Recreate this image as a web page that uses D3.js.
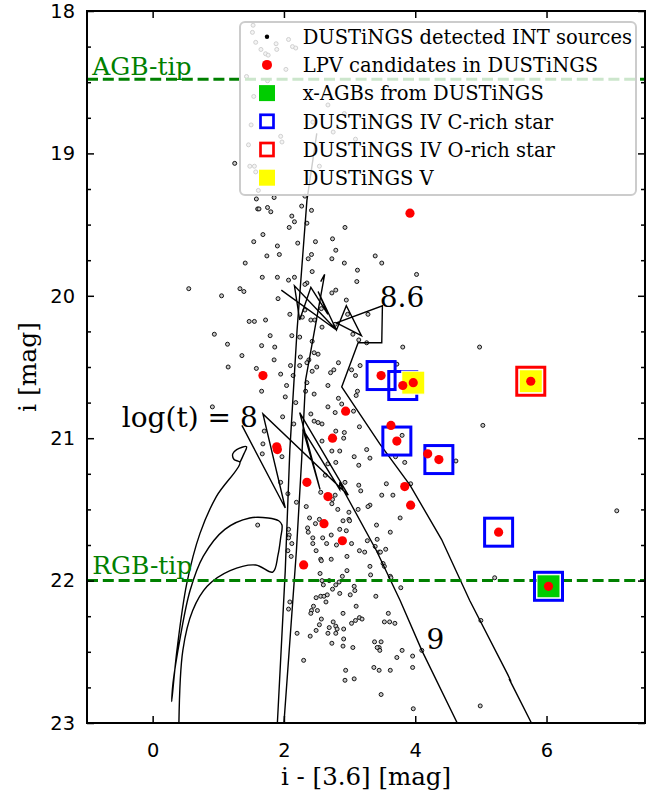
<!DOCTYPE html>
<html>
<head>
<meta charset="utf-8">
<script src="https://cdn.jsdelivr.net/npm/d3@7"></script>
<style>
  body { margin: 0; background: #fff; }
  svg { display: block; }
</style>
</head>
<body>
<svg id="chart" width="659" height="792"></svg>
<script>
// ---- DUSTiNGS INT sources: [i - [3.6], i] ----
const intSources = [
  [1.53,18.10],[1.52,18.15],[1.57,18.22],[1.88,18.23],[2.07,18.20],[1.89,18.27],[2.13,18.25],[2.18,18.26],
  [1.65,18.27],[1.72,18.30],[1.76,18.31],[2.03,18.41],[1.43,18.46],[1.75,18.49],[1.54,18.60],[2.67,18.66],
  [2.92,18.72],[1.50,18.80],[2.44,18.78],[2.75,18.85],[1.95,18.88],[1.97,18.92],[1.46,18.94],[3.09,18.90],
  [1.48,19.09],[1.55,19.09],[2.54,19.09],[1.57,19.13],[1.61,19.26],[2.32,19.30],[1.25,19.07],[1.58,19.32],
  [1.85,19.31],[1.60,19.39],[1.62,19.39],[1.75,19.38],[1.80,19.41],[2.27,19.37],[2.42,19.40],[2.12,19.44],
  [2.16,19.48],[2.08,19.52],[2.35,19.49],[2.93,19.52],
  [1.68,19.57],[1.54,19.62],[1.90,19.65],[2.21,19.63],[2.48,19.62],[2.74,19.60],[2.79,19.68],[1.74,19.72],
  [1.93,19.71],[2.42,19.71],[2.37,19.74],[2.73,19.74],[1.41,19.77],[2.92,19.77],[3.39,19.72],[3.49,19.77],
  [2.43,19.83],[3.12,19.82],[1.67,19.87],[1.90,19.87],[2.16,19.87],[2.07,19.89],[2.35,19.91],[2.32,19.92],
  [3.11,19.90],[4.02,19.85],[0.55,19.95],[1.05,20.00],[1.33,19.95],[1.39,19.97],[1.91,20.02],[2.73,19.98],
  [2.79,19.96],[2.95,20.03],[2.32,20.10],[2.57,20.09],[2.09,20.13],[1.47,20.18],[1.55,20.18],[1.72,20.17],
  [2.28,20.15],[2.41,20.17],[2.47,20.17],[2.78,20.20],[2.97,20.13],[3.28,20.13],[2.58,20.22],[0.94,20.27],
  [1.79,20.28],[2.12,20.28],[2.24,20.29],[3.05,20.27],[3.14,20.31],[2.43,20.32],[3.26,20.33],[1.14,20.34],
  [1.66,20.35],[1.86,20.36],[3.81,20.36],[1.36,20.42],[2.46,20.40],[2.52,20.41],[2.25,20.43],[2.38,20.45],
  [1.85,20.45],[2.10,20.49],[2.24,20.49],[2.35,20.47],[2.50,20.50],[2.83,20.47],[3.16,20.49],[1.15,20.50],
  [1.58,20.51],[1.95,20.55],[2.43,20.53],[2.76,20.52],[2.71,20.54],[2.14,20.56],[3.09,20.56],[2.04,20.63],
  [2.35,20.61],[2.67,20.63],[1.66,20.67],[2.33,20.67],[2.46,20.69],[2.02,20.71],[3.12,20.67],[3.10,20.70],
  [2.18,20.75],[2.83,20.72],[2.88,20.76],[2.67,20.78],[2.78,20.82],[3.06,20.81],[0.91,20.78],[1.98,20.85],
  [2.41,20.83],[2.46,20.88],[2.52,20.89],[2.58,20.90],[2.15,20.90],[1.70,20.95],[2.79,20.95],[2.92,20.96],
  [2.91,21.00],[3.15,20.92],[2.58,21.02],[1.68,21.04],[3.26,21.08],[4.98,20.36],[3.03,20.52],[3.72,20.48],
  [5.03,20.91],[3.80,20.98],
  [1.67,21.11],[1.97,21.13],[2.73,21.09],[2.85,21.09],[3.07,21.13],[3.31,21.14],[3.70,21.13],[2.67,21.18],
  [2.79,21.17],[3.14,21.19],[3.84,21.17],[2.63,21.26],[2.93,21.31],[1.95,21.31],[3.14,21.33],[3.56,21.32],
  [3.93,21.32],[3.17,21.37],[2.06,21.39],[2.56,21.38],[2.78,21.40],[2.74,21.43],[2.73,21.46],[3.49,21.40],
  [3.66,21.40],[2.19,21.45],[3.31,21.47],[3.28,21.48],[2.34,21.48],[2.82,21.50],[2.99,21.52],[3.13,21.50],
  [3.77,21.56],[2.39,21.56],[2.54,21.57],[2.48,21.60],[2.90,21.58],[2.99,21.57],[3.00,21.58],[3.41,21.61],
  [2.36,21.63],[2.85,21.64],[2.95,21.65],[3.62,21.66],[2.37,21.66],[2.07,21.64],[1.60,21.61],[2.08,21.68],
  [2.07,21.70],[2.44,21.70],[2.59,21.70],[2.72,21.68],[3.27,21.72],[3.42,21.71],[2.12,21.74],[2.44,21.74],
  [2.65,21.74],[2.80,21.75],[3.03,21.74],[3.39,21.76],[3.45,21.80],[3.47,21.80],[3.55,21.78],[2.06,21.79],
  [2.49,21.79],[3.15,21.79],[3.23,21.80],[2.11,21.83],[2.96,21.83],[2.56,21.85],[2.57,21.86],[2.72,21.85],
  [3.51,21.88],[3.31,21.90],[3.53,21.90],[2.96,21.93],[2.55,21.95],[3.32,21.96],[3.62,21.97],[3.63,21.98],
  [2.89,21.97],[2.58,22.00],[2.69,22.00],[2.84,22.01],[2.60,22.03],[2.79,22.03],[3.07,22.04],[3.78,22.05],
  [2.74,22.06],[2.85,22.09],[3.01,22.10],[3.08,22.07],[3.40,22.11],[2.49,22.12],[2.56,22.11],[2.61,22.11],
  [2.66,22.10],[2.64,22.15],[2.45,22.18],[2.51,22.21],[2.42,22.21],[2.41,22.23],[2.09,22.15],[2.07,22.20],
  [3.10,22.18],[2.90,22.23],[3.59,22.23],[2.57,22.27],[2.54,22.31],[2.75,22.29],[2.79,22.32],[2.81,22.34],
  [2.69,22.33],[2.91,22.34],[3.03,22.30],[3.09,22.28],[3.15,22.26],[3.19,22.27],[3.53,22.29],[3.61,22.29],
  [3.69,22.30],[2.49,22.35],[2.40,22.39],[2.67,22.37],[2.79,22.37],[2.20,22.37],[2.91,22.41],[2.73,22.44],
  [2.90,22.46],[3.05,22.47],[3.38,22.43],[3.48,22.43],[3.45,22.47],[3.46,22.49],[3.42,22.47],[3.80,22.49],
  [3.72,22.54],[3.96,22.53],[2.30,22.56],[3.37,22.61],[3.45,22.63],[3.62,22.63],[3.96,22.61],[2.94,22.63],
  [2.93,22.70],[3.07,22.69],[3.48,22.80],[3.97,22.90],[4.10,22.49],[4.62,21.16],[7.07,21.51],[5.21,21.98],
  [5.00,22.28],[4.99,22.88]
];

// ---- LPV candidates ----
const lpvColor = [3.92,1.68,3.48,3.81,3.97,5.76,2.94,3.63,3.72,2.74,1.89,1.90,4.19,4.36,2.35,3.84,2.67,3.93,2.61,5.27,2.89,2.30,6.03];
const lpvMag   = [19.42,20.56,20.56,20.63,20.61,20.60,20.81,20.91,21.02,21.00,21.06,21.08,21.11,21.15,21.31,21.34,21.41,21.47,21.60,21.66,21.72,21.89,22.04];

// ---- classified stars ----
const xagbColor  = [6.03];
const xagbMag    = [22.04];
const cRichColor = [3.48,3.81,3.72,4.36,5.27,6.03];
const cRichMag   = [20.56,20.63,21.02,21.15,21.66,22.04];
const oRichColor = [5.76];
const oRichMag   = [20.60];
const dustVColor = [3.97,5.76];
const dustVMag   = [20.61,20.60];

// ---- isochrone tracks ----
// blue loop + red giant horn of the youngest isochrone (drawn smoothed)
const isoHorn = [
  [0.40,23.00],[0.46,22.49],[0.61,22.21],[0.83,22.04],[1.18,21.93],[1.57,21.89],[1.83,21.94],[1.91,21.82],
  [1.95,21.70],[1.97,21.61],[1.92,21.58],[1.76,21.56],[1.48,21.56],[1.10,21.64],[0.77,21.83],[0.57,22.07],
  [0.42,22.40],[0.31,22.72],[0.29,22.85],[0.37,22.49],[0.52,22.02],[0.72,21.67],[0.97,21.41],[1.33,21.17],
  [1.24,21.15],[1.22,21.11],[1.28,21.08],[1.43,21.06],[1.39,21.11],[1.33,21.17]
];
const isoZig8 = [
  [1.36,20.91],[2.02,21.49],[1.68,20.83],[2.98,21.40],[2.24,20.82],[2.55,21.36],[2.29,20.94],[2.85,21.36],
  [2.85,21.31],[2.90,21.36],[3.41,21.79],[3.77,22.14],[4.10,22.49],[4.64,23.00]
];
const isoRgbA = [[2.50,18.86],[2.35,19.33],[2.20,20.24],[2.09,21.08],[2.02,21.93],[1.90,23.00]];
const isoRgbB = [[2.56,19.90],[2.62,19.85],[2.33,20.59],[2.27,21.15],[2.19,21.79],[2.00,23.00]];
const isoZig86 = [
  [1.96,19.96],[2.80,20.24],[2.16,19.93],[2.24,20.17],[2.41,19.94],[2.67,20.13],[2.52,19.97],[2.80,20.24],
  [2.95,20.07],[3.18,20.28],[2.80,20.19],[3.50,20.07],[3.49,20.33],[3.13,20.33],[2.88,20.64],[3.46,21.04],
  [3.92,21.33],[4.40,21.71],[4.83,22.14],[5.41,22.66],[5.46,22.71],[5.43,22.69],[5.77,23.00]
];
const straightTracks = [isoZig8, isoRgbA, isoRgbB, isoZig86];

// ---- reference magnitudes ----
const agbTip = 18.48;
const rgbTip = 22.0;

// ---- axis ticks ----
const xTicks = [0, 2, 4, 6];
const yTicks = [18, 19, 20, 21, 22, 23];
const yMinor = d3.range(18, 23.001, 0.25).filter(v => Math.abs(v - Math.round(v)) > 1e-6);

const legendLabels = [
  "DUSTiNGS detected INT sources",
  "LPV candidates in DUSTiNGS",
  "x-AGBs from DUSTiNGS",
  "DUSTiNGS IV C-rich star",
  "DUSTiNGS IV O-rich star",
  "DUSTiNGS V"
];

// ---------------------------------------------------------------
const W = 659, H = 792;
const margin = { top: 11, right: 14, bottom: 69, left: 87 };
const x = d3.scaleLinear().domain([-1, 7.5]).range([margin.left, W - margin.right]);
const y = d3.scaleLinear().domain([18, 23]).range([margin.top, H - margin.bottom]);

const serif = "'DejaVu Serif', serif";
const sans = "'DejaVu Sans', sans-serif";
const GREEN = "#008000";

const svg = d3.select("#chart");

svg.append("defs").append("clipPath").attr("id", "plotClip")
  .append("rect")
  .attr("x", x(-1)).attr("y", y(18))
  .attr("width", x(7.5) - x(-1)).attr("height", y(23) - y(18));

const plot = svg.append("g").attr("clip-path", "url(#plotClip)");

// detected sources
plot.append("g").selectAll("circle").data(intSources).join("circle")
  .attr("cx", d => x(d[0])).attr("cy", d => y(d[1]))
  .attr("r", 2)
  .attr("fill", "#c8c8c8")
  .attr("stroke", "#000")
  .attr("stroke-width", 0.9);

// isochrones
const line = d3.line().x(d => x(d[0])).y(d => y(d[1]));
const smooth = d3.line().x(d => x(d[0])).y(d => y(d[1])).curve(d3.curveCatmullRom.alpha(0.5));
const isoG = plot.append("g")
  .attr("fill", "none").attr("stroke", "#000").attr("stroke-width", 1.4);
isoG.append("path").attr("d", smooth(isoHorn));
isoG.selectAll("path.track").data(straightTracks).join("path")
  .attr("class", "track")
  .attr("d", line);

// AGB / RGB tip lines
plot.append("g").selectAll("line").data([agbTip, rgbTip]).join("line")
  .attr("x1", x(-1)).attr("x2", x(7.5))
  .attr("y1", d => y(d)).attr("y2", d => y(d))
  .attr("stroke", GREEN)
  .attr("stroke-width", 3)
  .attr("stroke-dasharray", "11,4.8");

// square markers
function squares(cols, mags, size, fill, stroke, sw) {
  plot.append("g").selectAll("rect").data(cols.map((c, i) => [c, mags[i]])).join("rect")
    .attr("x", d => x(d[0]) - size / 2)
    .attr("y", d => y(d[1]) - size / 2)
    .attr("width", size).attr("height", size)
    .attr("fill", fill)
    .attr("stroke", stroke)
    .attr("stroke-width", sw);
}
squares(xagbColor, xagbMag, 23, "#00cc00", "#ffffff", 1);
squares(cRichColor, cRichMag, 28, "none", "#0000ff", 3);
squares(oRichColor, oRichMag, 28, "none", "#ff0000", 3);
squares(dustVColor, dustVMag, 23, "#ffff00", "#ffffff", 1);

// LPV candidates
plot.append("g").selectAll("circle").data(lpvColor.map((c, i) => [c, lpvMag[i]])).join("circle")
  .attr("cx", d => x(d[0])).attr("cy", d => y(d[1]))
  .attr("r", 4.6)
  .attr("fill", "#ff0000");

// ---- legend ----
const lg = svg.append("g");
lg.append("rect")
  .attr("x", 240).attr("y", 22).attr("width", 396).attr("height", 173)
  .attr("rx", 5).attr("ry", 5)
  .attr("fill", "#ffffff").attr("fill-opacity", 0.8)
  .attr("stroke", "#cccccc").attr("stroke-width", 2);

const rowY = i => 36.7 + i * 28.2;
const mx = 267;
lg.append("circle").attr("cx", mx).attr("cy", rowY(0)).attr("r", 2.2).attr("fill", "#000");
lg.append("circle").attr("cx", mx).attr("cy", rowY(1)).attr("r", 5).attr("fill", "#ff0000");
lg.append("rect").attr("x", mx - 8).attr("y", rowY(2) - 8).attr("width", 16).attr("height", 16).attr("fill", "#00cc00");
lg.append("rect").attr("x", mx - 6.5).attr("y", rowY(3) - 6.5).attr("width", 13).attr("height", 13)
  .attr("fill", "none").attr("stroke", "#0000ff").attr("stroke-width", 2.7);
lg.append("rect").attr("x", mx - 6.5).attr("y", rowY(4) - 6.5).attr("width", 13).attr("height", 13)
  .attr("fill", "none").attr("stroke", "#ff0000").attr("stroke-width", 2.7);
lg.append("rect").attr("x", mx - 8).attr("y", rowY(5) - 8).attr("width", 16).attr("height", 16).attr("fill", "#ffff00");

lg.selectAll("text").data(legendLabels).join("text")
  .attr("x", 302.7).attr("y", (d, i) => rowY(i) + 7.2)
  .attr("font-family", serif).attr("font-size", 19.5)
  .attr("fill", "#000")
  .text(d => d);

// ---- frame and axes ----
function styleAxis(g) {
  g.select(".domain").remove();
  g.selectAll(".tick line").attr("stroke", "#000").attr("stroke-width", 1.5);
  g.selectAll(".tick text").attr("font-family", sans).attr("font-size", 19.4).attr("fill", "#000");
}

svg.append("g").attr("transform", `translate(0,${y(23)})`)
  .call(d3.axisBottom(x).tickValues(xTicks).tickFormat(d3.format("d")).tickSizeInner(-7).tickSizeOuter(0).tickPadding(20))
  .call(styleAxis);
svg.append("g").attr("transform", `translate(0,${y(18)})`)
  .call(d3.axisTop(x).tickValues(xTicks).tickFormat("").tickSizeInner(-7).tickSizeOuter(0))
  .call(styleAxis);
svg.append("g").attr("transform", `translate(${x(-1)},0)`)
  .call(d3.axisLeft(y).tickValues(yTicks).tickFormat(d3.format("d")).tickSizeInner(-7).tickSizeOuter(0).tickPadding(12))
  .call(styleAxis);
svg.append("g").attr("transform", `translate(${x(-1)},0)`)
  .call(d3.axisLeft(y).tickValues(yMinor).tickFormat("").tickSizeInner(-4).tickSizeOuter(0))
  .call(styleAxis);
svg.append("g").attr("transform", `translate(${x(7.5)},0)`)
  .call(d3.axisRight(y).tickValues(yTicks).tickFormat("").tickSizeInner(-7).tickSizeOuter(0))
  .call(styleAxis);
svg.append("g").attr("transform", `translate(${x(7.5)},0)`)
  .call(d3.axisRight(y).tickValues(yMinor).tickFormat("").tickSizeInner(-4).tickSizeOuter(0))
  .call(styleAxis);

svg.append("rect")
  .attr("x", x(-1)).attr("y", y(18))
  .attr("width", x(7.5) - x(-1)).attr("height", y(23) - y(18))
  .attr("fill", "none").attr("stroke", "#000").attr("stroke-width", 2);

// axis titles
svg.append("text")
  .attr("x", (x(-1) + x(7.5)) / 2).attr("y", 785)
  .attr("text-anchor", "middle")
  .attr("font-family", serif).attr("font-size", 24.5)
  .text("i - [3.6] [mag]");
svg.append("text")
  .attr("transform", `translate(36,${(y(18) + y(23)) / 2}) rotate(-90)`)
  .attr("text-anchor", "middle")
  .attr("font-family", serif).attr("font-size", 25)
  .text("i [mag]");

// ---- annotations ----
const notes = [
  { t: "AGB-tip", cx: -0.92, my: agbTip - 0.03, size: 25, color: GREEN },
  { t: "RGB-tip", cx: -0.92, my: rgbTip - 0.045, size: 25, color: GREEN },
  { t: "8.6", cx: 3.46, my: 20.08, size: 28, color: "#000" },
  { t: "log(t) = 8", cx: -0.47, my: 20.92, size: 28, color: "#000" },
  { t: "9", cx: 4.17, my: 22.48, size: 28, color: "#000" }
];
svg.append("g").selectAll("text").data(notes).join("text")
  .attr("x", d => x(d.cx)).attr("y", d => y(d.my))
  .attr("font-family", serif).attr("font-size", d => d.size)
  .attr("fill", d => d.color)
  .text(d => d.t);
</script>
</body>
</html>
